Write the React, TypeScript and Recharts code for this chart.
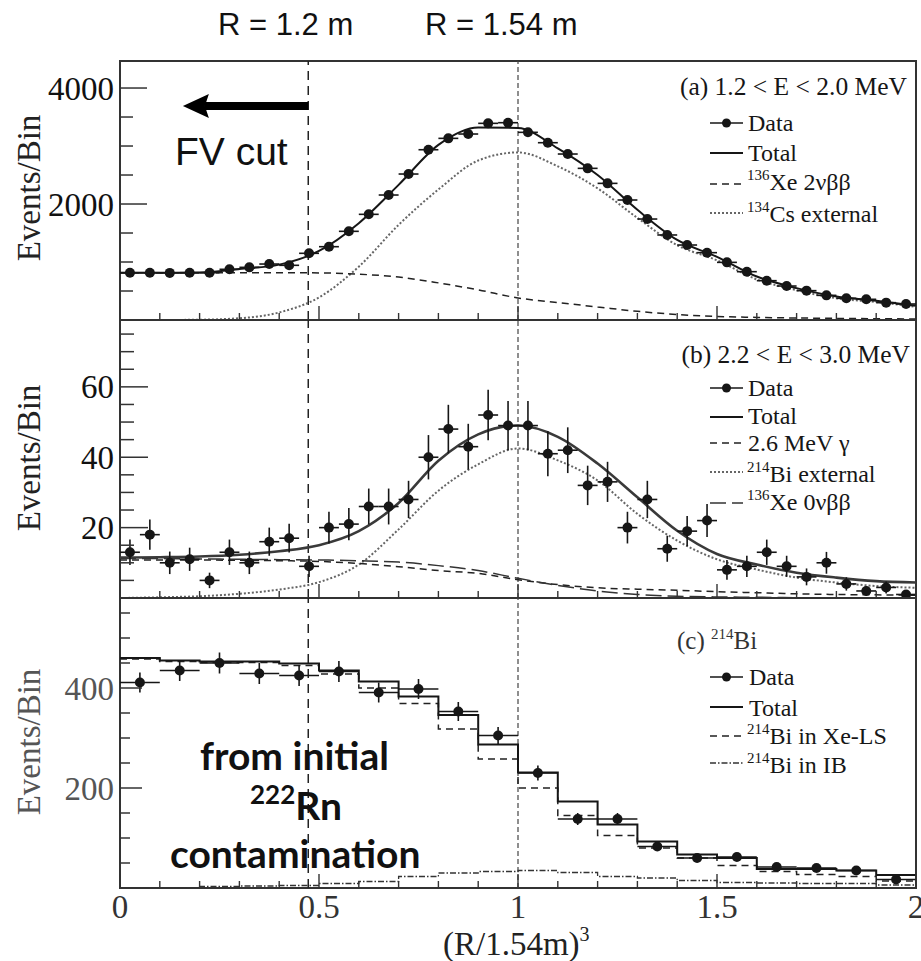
import React from "react";
import {
  ComposedChart,
  Line,
  Scatter,
  XAxis,
  YAxis,
  ErrorBar,
  ReferenceLine,
  ReferenceArea,
} from "recharts";

const SERIF = "'Liberation Serif', 'Times New Roman', serif";
const SANS = "'Liberation Sans', Arial, sans-serif";
const GILL = "Lato, 'Open Sans', sans-serif";
const INK = "#161616";

// x axis, (R/1.54m)^3
const xTicks = [0, 0.1, 0.2, 0.3, 0.4, 0.5, 0.6, 0.7, 0.8, 0.9, 1, 1.1, 1.2, 1.3, 1.4, 1.5, 1.6, 1.7, 1.8, 1.9, 2];
const xTickLabels = [0, 0.5, 1, 1.5, 2];
const fvCutX = 0.473; // R = 1.2 m
const balloonX = 1; // R = 1.54 m

// panels (a) and (b) use 0.05 wide bins
const binCentres = [
  0.025, 0.075, 0.125, 0.175, 0.225, 0.275, 0.325, 0.375, 0.425, 0.475,
  0.525, 0.575, 0.625, 0.675, 0.725, 0.775, 0.825, 0.875, 0.925, 0.975,
  1.025, 1.075, 1.125, 1.175, 1.225, 1.275, 1.325, 1.375, 1.425, 1.475,
  1.525, 1.575, 1.625, 1.675, 1.725, 1.775, 1.825, 1.875, 1.925, 1.975,
];
const binHalf = 0.025;
// fitted curves sampled here
const curveX = [0, 0.1, 0.2, 0.3, 0.4, 0.5, 0.6, 0.7, 0.8, 0.9, 1, 1.1, 1.2, 1.3, 1.4, 1.5, 1.6, 1.7, 1.8, 1.9, 2];

// (a) 1.2 < E < 2.0 MeV
const yTicksA = [500, 1000, 1500, 2000, 2500, 3000, 3500, 4000];
const yTickLabelsA = [2000, 4000];
const dataA = [
  815, 815, 812, 815, 815, 874, 908, 965, 943, 1150,
  1264, 1529, 1822, 2155, 2517, 2936, 3132, 3207, 3391, 3402,
  3236, 3057, 2862, 2615, 2356, 2069, 1741, 1466, 1293, 1161,
  994, 833, 678, 586, 506, 425, 374, 357, 299, 276,
];
const totalA = [815, 815, 818, 880, 955, 1190, 1670, 2330, 3020, 3320, 3310, 2960, 2500, 1900, 1380, 1090, 750, 550, 405, 330, 245];
const xe2nuA = [815, 815, 815, 815, 815, 812, 790, 740, 640, 520, 380, 300, 225, 150, 95, 62, 45, 35, 28, 22, 18];
const cs134A = [0, 0, 5, 30, 130, 390, 920, 1640, 2250, 2750, 2890, 2650, 2270, 1760, 1290, 1030, 700, 515, 375, 310, 225];

// (b) 2.2 < E < 3.0 MeV
const yTicksB = [5, 10, 15, 20, 25, 30, 35, 40, 45, 50, 55, 60, 65, 70, 75];
const yTickLabelsB = [20, 40, 60];
const dataB = [
  13, 18, 10, 11, 5, 13, 10, 16, 17, 9,
  20, 21, 26, 26, 28, 40, 48, 43, 52, 49,
  49, 41, 42, 32, 33, 20, 28, 14, 19, 22,
  8, 9, 13, 9, 6, 10, 4, 2, 3, 1,
];
const errB = [
  3.6, 4.3, 3.2, 3.3, 2.2, 3.6, 3.2, 4.0, 4.1, 3.0,
  4.5, 4.6, 5.1, 5.1, 5.3, 6.3, 6.9, 6.5, 7.2, 7.0,
  7.0, 6.4, 6.5, 5.6, 5.7, 4.5, 5.3, 3.7, 4.3, 4.7,
  2.8, 3.0, 3.6, 3.0, 2.4, 3.1, 1.9, 1.4, 1.7, 1.0,
];
const totalB = [11.5, 11.6, 11.8, 12.3, 13.3, 15.0, 19.0, 27.0, 39.0, 46.5, 49.0, 45.8, 38.2, 28.6, 19.1, 12.5, 9.5, 7.2, 5.8, 4.8, 4.4];
const gammaB = [10.8, 10.8, 10.8, 10.7, 10.6, 10.4, 9.8, 8.9, 7.8, 7.0, 5.2, 3.8, 2.9, 2.5, 2.2, 1.8, 1.5, 1.2, 1.0, 0.9, 0.8];
const bi214ExtB = [0, 0.2, 0.5, 1.2, 2.4, 4.5, 9.5, 19.5, 30.5, 38.0, 42.5, 39.1, 33.4, 23.9, 16.3, 11.0, 8.1, 5.8, 4.4, 3.4, 2.9];
const xe0nuB = [11.2, 11.2, 11.1, 11.0, 10.9, 10.8, 10.6, 10.2, 9.2, 7.8, 5.6, 3.6, 2.0, 1.0, 0.5, 0.3, 0.2, 0.1, 0.05, 0, 0];

// (c) 214Bi, 0.1 wide bins
const binEdgesC = [0, 0.1, 0.2, 0.3, 0.4, 0.5, 0.6, 0.7, 0.8, 0.9, 1, 1.1, 1.2, 1.3, 1.4, 1.5, 1.6, 1.7, 1.8, 1.9, 2];
const binCentresC = [0.05, 0.15, 0.25, 0.35, 0.45, 0.55, 0.65, 0.75, 0.85, 0.95, 1.05, 1.15, 1.25, 1.35, 1.45, 1.55, 1.65, 1.75, 1.85, 1.95];
const binHalfC = 0.05;
const yTicksC = [50, 100, 150, 200, 250, 300, 350, 400, 450, 500, 550];
const yTickLabelsC = [200, 400];
const dataC = [411, 435, 450, 429, 425, 433, 391, 398, 353, 305, 230, 138, 138, 83, 60, 62, 42, 40, 35, 17];
const errC = [20, 21, 21, 21, 21, 21, 20, 20, 19, 17, 15, 12, 12, 9, 8, 8, 6, 6, 6, 4];
const totalC = [460, 455, 453, 453, 449, 435, 413, 383, 346, 287, 231, 173, 127, 93, 67, 60, 38, 38, 35, 26];
const xeLsC = [458, 453, 451, 451, 445, 428, 400, 369, 318, 258, 200, 145, 105, 80, 60, 45, 33, 27, 23, 14];
const ibC = [0, 0, 3, 4, 5, 9, 13, 23, 30, 33, 35, 31, 23, 20, 15, 11, 10, 9, 9, 6];

// arrow in (a)
const arrowY = 3690;
const arrowTipX = 0.158;

const STYLES = {
  total: { stroke: INK, width: 2 },
  totalB: { stroke: "#3a3a3a", width: 2.6 },
  dash: { stroke: "#222", width: 1.5, dash: "7 5" },
  dot: { stroke: "#666", width: 2, dash: "2 2" },
  longdash: { stroke: "#333", width: 1.5, dash: "16 6" },
  dashdot: { stroke: "#333", width: 1.3, dash: "6 2 1.5 2" },
};

const curve = (ys: number[]) => curveX.map((x, i) => ({ x, y: ys[i] }));
const hist = (ys: number[]) => binEdgesC.map((x, i) => ({ x, y: ys[Math.min(i, ys.length - 1)] }));
const points = (xs: number[], ys: number[], ex: number, ey?: number[]) =>
  xs.map((x, i) => ({ x, y: ys[i], ex, ey: ey ? ey[i] : 0 }));

const Dot = (p: any) => <circle cx={p.cx} cy={p.cy} r={5} fill={INK} />;

function XTick(props: any) {
  const { x, y, payload, labels } = props;
  const major = xTickLabels.includes(payload.value);
  return (
    <g>
      <line x1={x} x2={x} y1={y} y2={y - (major ? 14 : 7)} stroke="#333" strokeWidth={1.4} />
      {labels && major && (
        <text x={x} y={y + 30} textAnchor="middle" fontFamily={SERIF} fontSize={33} fill="#333">
          {payload.value}
        </text>
      )}
    </g>
  );
}

function YTick(props: any) {
  const { x, y, payload, labels, major, minor, color } = props;
  const isMajor = labels.includes(payload.value);
  return (
    <g>
      <line x1={x} x2={x + (isMajor ? major : minor)} y1={y} y2={y} stroke="#333" strokeWidth={1.5} />
      {isMajor && (
        <text x={x - 6} y={y} dy="0.35em" textAnchor="end" fontFamily={SERIF} fontSize={33} fill={color}>
          {payload.value}
        </text>
      )}
    </g>
  );
}

function ArrowShape(p: any) {
  const { x1, y1, x2 } = p;
  return (
    <g>
      <line x1={x1} x2={x2 + 22} y1={y1} y2={y1} stroke="#000" strokeWidth={8} />
      <polygon points={`${x2},${y1} ${x2 + 26},${y1 - 12} ${x2 + 22},${y1} ${x2 + 26},${y1 + 12}`} fill="#000" />
    </g>
  );
}

// axes get a 1px band: a zero sized axis is not drawn at all
function panelAxes(yDomain: number[], yTicks: number[], yLabels: number[], xLabels: boolean, tick: { major: number; minor: number; color: string }) {
  return [
    <XAxis
      key="x"
      type="number"
      dataKey="x"
      domain={[0, 2]}
      ticks={xTicks}
      interval={0}
      height={1}
      tickSize={0}
      tickMargin={0}
      axisLine={false}
      tickLine={false}
      allowDataOverflow
      tick={(p: any) => <XTick {...p} labels={xLabels} />}
    />,
    <YAxis
      key="y"
      type="number"
      dataKey="y"
      domain={yDomain}
      ticks={yTicks}
      interval={0}
      width={1}
      tickSize={0}
      tickMargin={0}
      axisLine={false}
      tickLine={false}
      allowDataOverflow
      tick={(p: any) => <YTick {...p} labels={yLabels} {...tick} />}
    />,
    <ReferenceArea key="frame" x1={0} x2={2} y1={yDomain[0]} y2={yDomain[1]} fill="none" stroke="#333" strokeWidth={2} />,
    <ReferenceLine key="fv" x={fvCutX} stroke="#222" strokeWidth={1.5} strokeDasharray="9 6" />,
    <ReferenceLine key="ball" x={balloonX} stroke="#444" strokeWidth={1.2} strokeDasharray="5 3" />,
  ];
}

function Sample({ y, kind }: { y: number; kind: string }) {
  if (kind === "data") {
    return (
      <g>
        <line x1={710} x2={743} y1={y} y2={y} stroke={INK} strokeWidth={1.6} />
        <circle cx={726.5} cy={y} r={4.5} fill={INK} />
      </g>
    );
  }
  const s = (STYLES as any)[kind];
  return <line x1={710} x2={743} y1={y} y2={y} stroke={s.stroke} strokeWidth={Math.min(s.width, 1.8)} strokeDasharray={s.dash} />;
}

const lt = { fontFamily: SERIF, fontSize: 24, fill: INK };
const Sup = ({ children }: { children: React.ReactNode }) => (
  <tspan fontSize={15} dy={-10}>
    {children}
  </tspan>
);

function Overlay() {
  return (
    <svg width={921} height={961} style={{ position: "absolute", left: 0, top: 0, pointerEvents: "none" }}>
      {/* radius markers */}
      <text x={218} y={35} fontFamily={SANS} fontSize={31} fill="#111">R = 1.2 m</text>
      <text x={425} y={35} fontFamily={SANS} fontSize={31} fill="#111">R = 1.54 m</text>
      <text x={175} y={165} fontFamily={SANS} fontSize={39} fill="#111">FV cut</text>

      {/* axis titles */}
      {[188, 458, 742].map((cy, i) => (
        <text
          key={cy}
          x={40}
          y={cy}
          transform={`rotate(-90 40 ${cy})`}
          textAnchor="middle"
          fontFamily={SERIF}
          fontSize={33}
          fill={i === 2 ? "#555" : "#222"}
        >
          Events/Bin
        </text>
      ))}
      <text x={443} y={955} fontFamily={SERIF} fontSize={33} fill="#222">
        (R/1.54m)<tspan fontSize={20} dy={-14}>3</tspan>
      </text>

      {/* legend (a) */}
      <text x={907} y={95} {...lt} fontSize={25.5} textAnchor="end">(a) 1.2 &lt; E &lt; 2.0 MeV</text>
      <Sample y={123} kind="data" />
      <text x={748} y={131} {...lt}>Data</text>
      <Sample y={153} kind="total" />
      <text x={748} y={161} {...lt}>Total</text>
      <Sample y={184} kind="dash" />
      <text x={747} y={190} {...lt}><Sup>136</Sup><tspan dy={10}>Xe 2νββ</tspan></text>
      <Sample y={213} kind="dot" />
      <text x={747} y={222} {...lt}><Sup>134</Sup><tspan dy={10}>Cs external</tspan></text>

      {/* legend (b) */}
      <text x={910} y={363} {...lt} fontSize={25.5} textAnchor="end">(b) 2.2 &lt; E &lt; 3.0 MeV</text>
      <Sample y={388} kind="data" />
      <text x={748} y={396} {...lt}>Data</text>
      <Sample y={417} kind="total" />
      <text x={748} y={424} {...lt}>Total</text>
      <Sample y={443} kind="dash" />
      <text x={748} y={451} {...lt}>2.6 MeV γ</text>
      <Sample y={472} kind="dot" />
      <text x={747} y={482} {...lt}><Sup>214</Sup><tspan dy={10}>Bi external</tspan></text>
      <Sample y={503} kind="longdash" />
      <text x={747} y={510} {...lt}><Sup>136</Sup><tspan dy={10}>Xe 0νββ</tspan></text>

      {/* legend (c) */}
      <text x={677} y={649} {...lt} fontSize={25} fill="#333">(c) <Sup>214</Sup><tspan dy={10}>Bi</tspan></text>
      <Sample y={677} kind="data" />
      <text x={749} y={685} {...lt}>Data</text>
      <Sample y={707} kind="total" />
      <text x={749} y={716} {...lt}>Total</text>
      <Sample y={736} kind="dash" />
      <text x={747} y={744} {...lt}><Sup>214</Sup><tspan dy={10}>Bi in Xe-LS</tspan></text>
      <Sample y={763} kind="dashdot" />
      <text x={747} y={773} {...lt}><Sup>214</Sup><tspan dy={10}>Bi in IB</tspan></text>

      {/* annotation in (c) */}
      <text x={200} y={770} fontFamily={GILL} fontWeight={700} fontSize={39} fill="#111">from initial</text>
      <text x={250} y={820} fontFamily={GILL} fontWeight={700} fontSize={39} fill="#111">
        <tspan fontSize={26} dy={-16}>222</tspan>
        <tspan dy={16}>Rn</tspan>
      </text>
      <text x={170} y={868} fontFamily={GILL} fontWeight={700} fontSize={39} fill="#111">contamination</text>
    </svg>
  );
}

export default function App() {
  const margin = { left: 119, right: 5 };
  return (
    <div style={{ position: "absolute", left: 0, top: 0, width: 921, height: 961, background: "#fff", overflow: "hidden" }}>
      {/* (a) */}
      <div style={{ position: "absolute", left: 0, top: 0 }}>
        <ComposedChart width={921} height={324} margin={{ ...margin, top: 61, bottom: 3 }}>
          {panelAxes([0, 4466], yTicksA, yTickLabelsA, false, { major: 27, minor: 13, color: "#111" })}
          <Line data={curve(cs134A)} dataKey="y" type="monotone" dot={false} stroke={STYLES.dot.stroke} strokeWidth={STYLES.dot.width} strokeDasharray={STYLES.dot.dash} isAnimationActive={false} />
          <Line data={curve(xe2nuA)} dataKey="y" type="monotone" dot={false} stroke={STYLES.dash.stroke} strokeWidth={STYLES.dash.width} strokeDasharray={STYLES.dash.dash} isAnimationActive={false} />
          <Line data={curve(totalA)} dataKey="y" type="monotone" dot={false} stroke={STYLES.total.stroke} strokeWidth={STYLES.total.width} isAnimationActive={false} />
          <Scatter data={points(binCentres, dataA, binHalf)} dataKey="y" shape={Dot} isAnimationActive={false}>
            <ErrorBar dataKey="ex" direction="x" width={0} stroke={INK} strokeWidth={1.6} isAnimationActive={false} />
          </Scatter>
          <ReferenceLine segment={[{ x: fvCutX, y: arrowY }, { x: arrowTipX, y: arrowY }]} shape={ArrowShape} />
        </ComposedChart>
      </div>

      {/* (b) */}
      <div style={{ position: "absolute", left: 0, top: 316 }}>
        <ComposedChart width={921} height={286} margin={{ ...margin, top: 4, bottom: 3 }}>
          {panelAxes([0, 79], yTicksB, yTickLabelsB, false, { major: 28, minor: 14, color: "#111" })}
          <Line data={curve(bi214ExtB)} dataKey="y" type="monotone" dot={false} stroke={STYLES.dot.stroke} strokeWidth={STYLES.dot.width} strokeDasharray={STYLES.dot.dash} isAnimationActive={false} />
          <Line data={curve(gammaB)} dataKey="y" type="monotone" dot={false} stroke={STYLES.dash.stroke} strokeWidth={STYLES.dash.width} strokeDasharray={STYLES.dash.dash} isAnimationActive={false} />
          <Line data={curve(xe0nuB)} dataKey="y" type="monotone" dot={false} stroke={STYLES.longdash.stroke} strokeWidth={STYLES.longdash.width} strokeDasharray={STYLES.longdash.dash} isAnimationActive={false} />
          <Line data={curve(totalB)} dataKey="y" type="monotone" dot={false} stroke={STYLES.totalB.stroke} strokeWidth={STYLES.totalB.width} isAnimationActive={false} />
          <Scatter data={points(binCentres, dataB, binHalf, errB)} dataKey="y" shape={Dot} isAnimationActive={false}>
            <ErrorBar dataKey="ex" direction="x" width={0} stroke={INK} strokeWidth={1.6} isAnimationActive={false} />
            <ErrorBar dataKey="ey" direction="y" width={0} stroke={INK} strokeWidth={1.6} isAnimationActive={false} />
          </Scatter>
        </ComposedChart>
      </div>

      {/* (c) */}
      <div style={{ position: "absolute", left: 0, top: 594 }}>
        <ComposedChart width={921} height={367} margin={{ ...margin, top: 4, bottom: 72 }}>
          {panelAxes([0, 580], yTicksC, yTickLabelsC, true, { major: 22, minor: 10, color: "#555" })}
          <Line data={hist(ibC)} dataKey="y" type="stepAfter" dot={false} stroke={STYLES.dashdot.stroke} strokeWidth={STYLES.dashdot.width} strokeDasharray={STYLES.dashdot.dash} isAnimationActive={false} />
          <Line data={hist(xeLsC)} dataKey="y" type="stepAfter" dot={false} stroke={STYLES.dash.stroke} strokeWidth={STYLES.dash.width} strokeDasharray={STYLES.dash.dash} isAnimationActive={false} />
          <Line data={hist(totalC)} dataKey="y" type="stepAfter" dot={false} stroke={STYLES.total.stroke} strokeWidth={STYLES.total.width} isAnimationActive={false} />
          <Scatter data={points(binCentresC, dataC, binHalfC, errC)} dataKey="y" shape={Dot} isAnimationActive={false}>
            <ErrorBar dataKey="ex" direction="x" width={0} stroke={INK} strokeWidth={1.6} isAnimationActive={false} />
            <ErrorBar dataKey="ey" direction="y" width={0} stroke={INK} strokeWidth={1.6} isAnimationActive={false} />
          </Scatter>
        </ComposedChart>
      </div>

      <Overlay />
    </div>
  );
}
